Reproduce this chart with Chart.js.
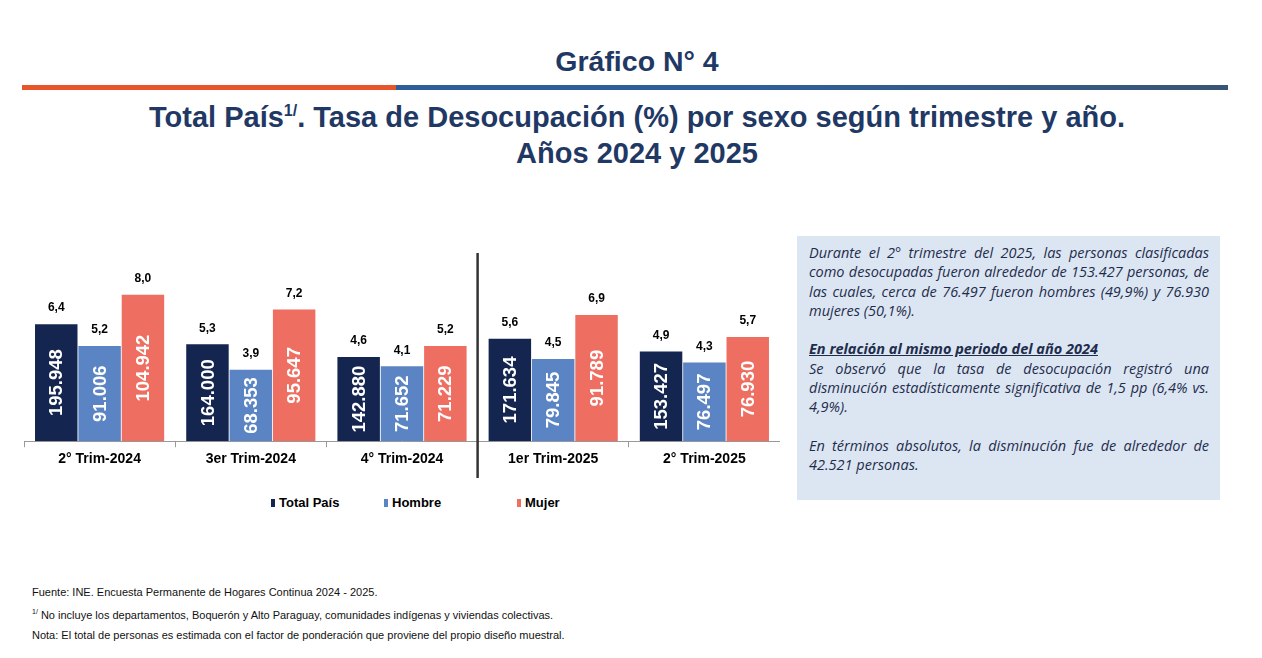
<!DOCTYPE html>
<html><head><meta charset="utf-8">
<script src="https://cdn.jsdelivr.net/npm/chart.js@4"></script>
<style>
body{margin:0;width:1262px;height:658px;background:#fff;font-family:"Liberation Sans",Arial,sans-serif;position:relative;overflow:hidden}
.t1{position:absolute;top:45px;left:0;width:1274px;text-align:center;font-weight:bold;font-size:28.5px;color:#1f3864}
.bar{position:absolute;top:85px;height:5px;left:22px;width:1206px;background:linear-gradient(to right,#e8552b 0,#e8552b 31%,#2f5f9a 31%,#2f5f9a 60%,#3a5575 100%)}
.t2{position:absolute;top:93px;left:0;width:1274px;text-align:center;font-weight:bold;font-size:29px;color:#1f3864;line-height:36px}
.t2 sup{font-size:16px}
#wrap{position:absolute;left:22px;top:240px;width:758px;height:245px}
.leg{position:absolute;top:495px;font-weight:bold;font-size:13px;color:#000}
.leg i{display:inline-block;width:4px;height:8px;margin-right:4px}
.box{position:absolute;left:797px;top:236px;width:423px;height:264px;background:#dce6f2;box-sizing:border-box;padding:7px 11px 0 12px;font-family:"Open Sans",sans-serif;font-style:italic;font-size:14.5px;line-height:19.3px;color:#1f2d4d;text-align:justify}
.box p{margin:0 0 19.3px 0}
.foot{position:absolute;left:32px;font-size:11px;color:#111}
</style></head><body>
<div class="t1">Gráfico N° 4</div>
<div class="bar"></div>
<div class="t2">Total País<sup>1/</sup>. Tasa de Desocupación (%) por sexo según trimestre y año.<br>Años 2024 y 2025</div>
<div id="wrap"><canvas id="c"></canvas></div>
<div class="leg" style="left:271px"><i style="background:#14254f"></i>Total País</div>
<div class="leg" style="left:384px"><i style="background:#5b84c4"></i>Hombre</div>
<div class="leg" style="left:517px"><i style="background:#ee6f62"></i>Mujer</div>
<div class="box">
<p>Durante el 2° trimestre del 2025, las personas clasificadas como desocupadas fueron alrededor de 153.427 personas, de las cuales, cerca de 76.497 fueron hombres (49,9%) y 76.930 mujeres (50,1%).</p>
<p style="margin:0"><b><u>En relación al mismo periodo del año 2024</u></b><br>Se observó que la tasa de desocupación registró una disminución estadísticamente significativa de 1,5 pp (6,4% vs. 4,9%).</p>
<p style="margin-top:19.3px">En términos absolutos, la disminución fue de alrededor de 42.521 personas.</p>
</div>
<div class="foot" style="top:586px">Fuente: INE. Encuesta Permanente de Hogares Continua 2024 - 2025.</div>
<div class="foot" style="top:608px"><sup style="font-size:7px">1/</sup> No incluye los departamentos, Boquerón y Alto Paraguay, comunidades indígenas y viviendas colectivas.</div>
<div class="foot" style="top:629px">Nota: El total de personas es estimada con el factor de ponderación que proviene del propio diseño muestral.</div>
<script>
const categories=["2° Trim-2024","3er Trim-2024","4° Trim-2024","1er Trim-2025","2° Trim-2025"];
const seriesNames=["Total País","Hombre","Mujer"];
const totalRate=[6.4,5.3,4.6,5.6,4.9];
const hombreRate=[5.2,3.9,4.1,4.5,4.3];
const mujerRate=[8.0,7.2,5.2,6.9,5.7];
const totalPers=["195.948","164.000","142.880","171.634","153.427"];
const hombrePers=["91.006","68.353","71.652","79.845","76.497"];
const mujerPers=["104.942","95.647","71.229","91.789","76.930"];
const colors=["#14254f","#5b84c4","#ee6f62"];
const persons=[totalPers,hombrePers,mujerPers];
const labelsPlugin={id:"lbl",afterDatasetsDraw(ch){const c=ch.ctx;
 ch.data.datasets.forEach((ds,i)=>{ch.getDatasetMeta(i).data.forEach((b,j)=>{
  c.save();c.fillStyle="#000";c.font="bold 12px 'Liberation Sans'";c.textAlign="center";c.textBaseline="bottom";
  c.fillText(ds.data[j].toFixed(1).replace(".",","),b.x,b.y-10);
  c.translate(b.x,(b.y+b.base)/2);c.rotate(-Math.PI/2);c.fillStyle="#fff";c.font="bold 18.5px 'Liberation Sans'";c.textBaseline="middle";
  c.fillText(persons[i][j],0,1);c.restore();});});
 const x=ch.scales.x;const xs=(x.getPixelForValue(2)+x.getPixelForValue(3))/2;
 c.save();c.strokeStyle="#333";c.lineWidth=2.5;c.beginPath();c.moveTo(xs,13);c.lineTo(xs,238);c.stroke();c.restore();}};
new Chart(document.getElementById("c"),{type:"bar",
data:{labels:categories,datasets:[totalRate,hombreRate,mujerRate].map((d,i)=>({label:seriesNames[i],data:d,backgroundColor:colors[i],categoryPercentage:0.86,barPercentage:0.98}))},
options:{responsive:true,maintainAspectRatio:false,animation:false,devicePixelRatio:1,
layout:{padding:{left:2,right:0,top:0,bottom:13}},
scales:{y:{display:false,min:0,max:11},
x:{grid:{display:true,drawOnChartArea:false,offset:true,tickLength:6,color:"#999"},border:{color:"#999"},ticks:{color:"#000",font:{size:14,weight:"bold",family:"Liberation Sans"},padding:4}}},
plugins:{tooltip:{enabled:false},legend:{display:false}}},
plugins:[labelsPlugin]});
</script></body></html>
